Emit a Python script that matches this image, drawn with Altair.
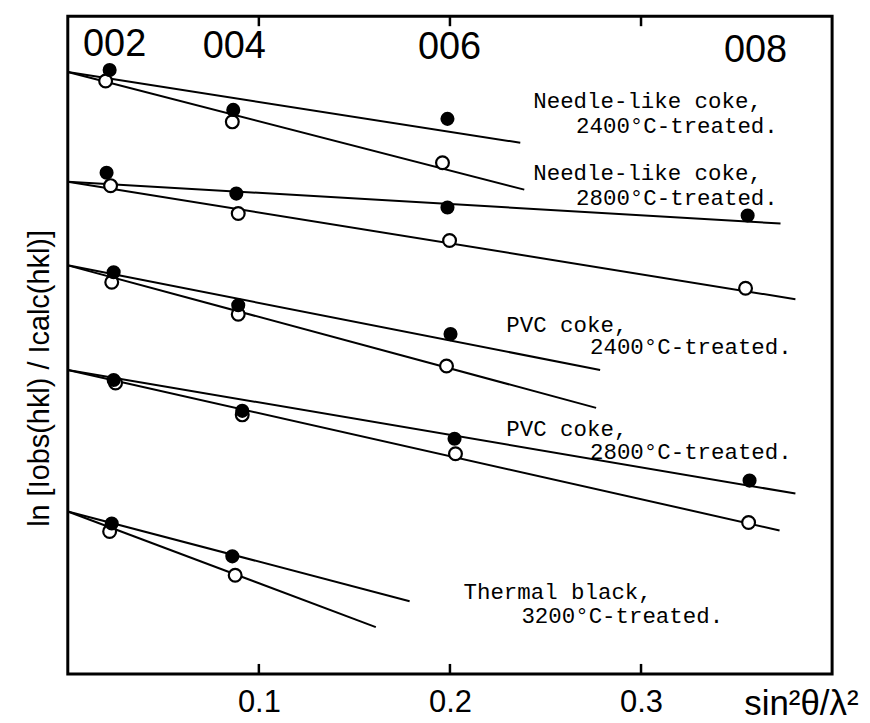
import altair as alt
import pandas as pd

# ---------------- data ----------------
samples = ["N2400", "N2800", "P2400", "P2800", "T3200"]

# fitted lines: common intercept at x = 0, separate end points
line_start_y = [60.4, 49.4, 41.0, 30.5, 16.3]
filled_end_x = [0.2368, 0.3730, 0.2786, 0.3808, 0.1789]
filled_end_y = [53.3, 45.2, 30.5, 18.1, 7.3]
open_end_x = [0.2389, 0.3808, 0.2765, 0.3725, 0.1612]
open_end_y = [48.6, 37.6, 26.7, 14.4, 4.7]

# filled circles
filled_x = {
    "N2400": [0.0219, 0.0866, 0.1987],
    "N2800": [0.0203, 0.0882, 0.1987, 0.3558],
    "P2400": [0.0240, 0.0892, 0.2003],
    "P2800": [0.0240, 0.0913, 0.2024, 0.3568],
    "T3200": [0.0230, 0.0861],
}
filled_y = {
    "N2400": [60.6, 56.6, 55.7],
    "N2800": [50.3, 48.2, 46.8, 46.0],
    "P2400": [40.3, 37.0, 34.1],
    "P2800": [29.5, 26.4, 23.6, 19.4],
    "T3200": [15.1, 11.8],
}
# open circles
open_x = {
    "N2400": [0.0198, 0.0861, 0.1961],
    "N2800": [0.0224, 0.0892, 0.1998, 0.3547],
    "P2400": [0.0230, 0.0892, 0.1982],
    "P2800": [0.0250, 0.0913, 0.2029, 0.3563],
    "T3200": [0.0219, 0.0876],
}
open_y = {
    "N2400": [59.5, 55.4, 51.3],
    "N2800": [49.0, 46.2, 43.5, 38.7],
    "P2400": [39.3, 36.1, 30.9],
    "P2800": [29.2, 26.0, 22.1, 15.2],
    "T3200": [14.3, 9.9],
}

label_line1 = ["Needle-like coke,", "Needle-like coke,", "PVC coke,", "PVC coke,", "Thermal black,"]
label_line2 = ["2400°C-treated.", "2800°C-treated.", "2400°C-treated.", "2800°C-treated.", "3200°C-treated."]
label1_x = [0.2436, 0.2436, 0.2295, 0.2295, 0.2071]
label1_y = [57.5, 50.3, 35.0, 24.6, 8.2]
label2_x = [0.2660, 0.2660, 0.2733, 0.2733, 0.2374]
label2_y = [55.0, 47.8, 32.8, 22.3, 5.8]

hkl_labels = ["002", "004", "006", "008"]
hkl_x = [0.0245, 0.0871, 0.1998, 0.3599]
hkl_y = [63.1, 62.9, 62.8, 62.5]

tick_values = [0.1, 0.2, 0.3]
x_domain = [0, 0.4]
y_domain = [0, 66]

# ---------------- tables ----------------
line_rows = []
for i, s in enumerate(samples):
    line_rows += [
        {"id": s + "_f", "x": 0.0, "y": line_start_y[i]},
        {"id": s + "_f", "x": filled_end_x[i], "y": filled_end_y[i]},
        {"id": s + "_o", "x": 0.0, "y": line_start_y[i]},
        {"id": s + "_o", "x": open_end_x[i], "y": open_end_y[i]},
    ]
lines_df = pd.DataFrame(line_rows)

filled_df = pd.DataFrame(
    [{"s": s, "x": x, "y": y} for s in samples for x, y in zip(filled_x[s], filled_y[s])]
)
open_df = pd.DataFrame(
    [{"s": s, "x": x, "y": y} for s in samples for x, y in zip(open_x[s], open_y[s])]
)
lab1_df = pd.DataFrame({"t": label_line1, "x": label1_x, "y": label1_y})
lab2_df = pd.DataFrame({"t": label_line2, "x": label2_x, "y": label2_y})
hkl_df = pd.DataFrame({"t": hkl_labels, "x": hkl_x, "y": hkl_y})
ticks_df = pd.DataFrame(
    [{"x": v, "y": y_domain[0], "y2": y_domain[0] + 1.0} for v in tick_values]
    + [{"x": v, "y": y_domain[1], "y2": y_domain[1] - 1.0} for v in tick_values]
)

# ---------------- encodings ----------------
xs = alt.Scale(domain=x_domain, nice=False, zero=False)
ys = alt.Scale(domain=y_domain, nice=False, zero=False)

x_axis = alt.Axis(
    values=tick_values, format=".1f", ticks=False, domain=False, grid=False,
    labelFont="Liberation Sans", labelFontSize=31, labelColor="black", labelPadding=14,
    title="sin²θ/λ²", titleFont="Liberation Sans", titleFontSize=35, titleFontWeight="normal",
    titleColor="black", titleAlign="right", titleX=793, titleY=30, titleBaseline="middle",
)
y_axis = alt.Axis(
    labels=False, ticks=False, domain=False, grid=False,
    title="ln [Iobs(hkl) / Icalc(hkl)]", titleFont="Liberation Sans", titleFontSize=29,
    titleFontWeight="normal", titleColor="black", titleX=-28, titleY=363,
    titleAlign="center", titleBaseline="middle", titleAngle=270,
)

X = alt.X("x:Q", scale=xs, axis=x_axis)
Y = alt.Y("y:Q", scale=ys, axis=y_axis)

lines = alt.Chart(lines_df).mark_line(color="black", strokeWidth=2).encode(
    x=X, y=Y, detail="id:N"
)
open_pts = alt.Chart(open_df).mark_point(
    shape="circle", filled=True, fill="white", stroke="black", strokeWidth=2.2, size=165, opacity=1
).encode(x=X, y=Y)
filled_pts = alt.Chart(filled_df).mark_circle(color="black", size=200, opacity=1).encode(x=X, y=Y)

lab1 = alt.Chart(lab1_df).mark_text(
    align="left", baseline="middle", font="Liberation Mono", fontSize=22.5, color="black"
).encode(x=X, y=Y, text="t:N")
lab2 = alt.Chart(lab2_df).mark_text(
    align="left", baseline="middle", font="Liberation Mono", fontSize=22.5, color="black"
).encode(x=X, y=Y, text="t:N")
hkl = alt.Chart(hkl_df).mark_text(
    align="center", baseline="middle", font="Liberation Sans", fontSize=38, color="black"
).encode(x=X, y=Y, text="t:N")
ticks = alt.Chart(ticks_df).mark_rule(color="black", strokeWidth=2.5).encode(
    x=X, y=Y, y2="y2:Q"
)

chart = (
    alt.layer(lines, ticks, open_pts, filled_pts, lab1, lab2, hkl)
    .properties(
        width=767, height=660,
        autosize=alt.AutoSizeParams(type="none"),
        padding={"left": 60, "top": 7, "right": 30, "bottom": 47},
        background="white",
    )
    .configure_view(stroke="black", strokeWidth=3)
)

chart.save("out.html", embed_options={"renderer": "svg", "actions": False})
